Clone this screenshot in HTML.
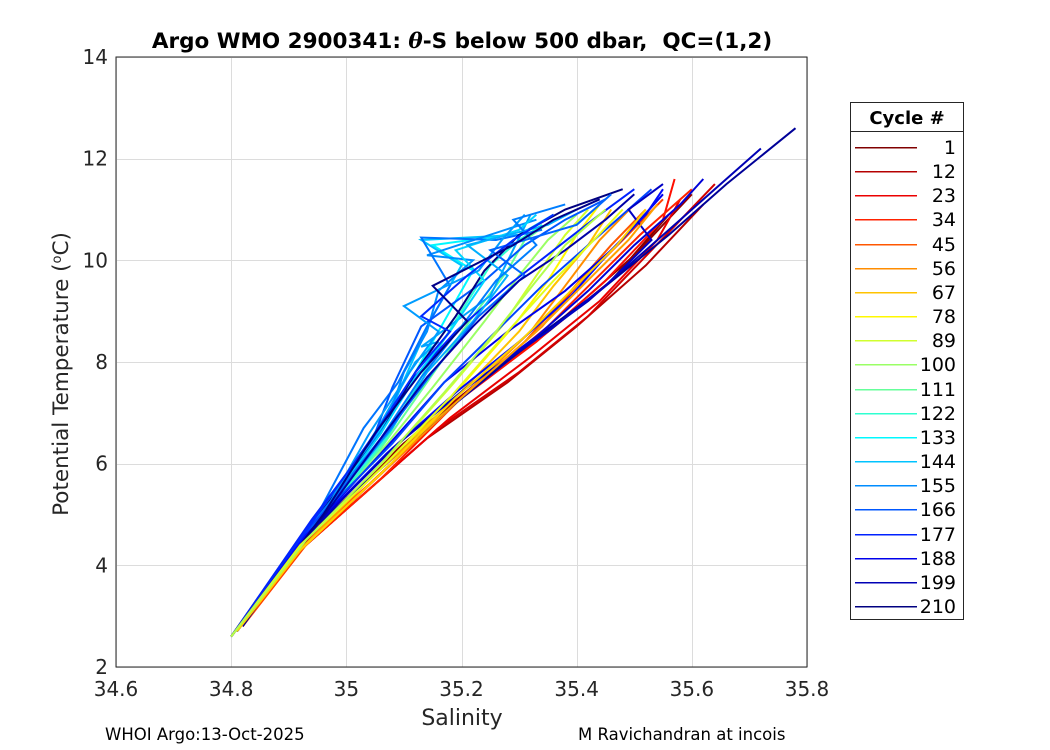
<!DOCTYPE html>
<html><head><meta charset="utf-8"><style>
body{margin:0;background:#fff;}
svg{display:block;font-family:"DejaVu Sans","Liberation Sans",sans-serif;}
</style></head><body>
<svg id="chart" width="1050" height="750" viewBox="0 0 1050 750">
<rect x="0" y="0" width="1050" height="750" fill="#fff"/>
<rect x="116" y="57" width="691" height="610" fill="#fff"/>
<g id="grid"></g>
<g id="lines"></g>
<rect x="116" y="57" width="691" height="610" fill="none" stroke="#262626" stroke-width="1"/>
<g id="ticks"></g>
<text x="462" y="48" text-anchor="middle" font-size="21.5" font-weight="bold" fill="#000" xml:space="preserve">Argo WMO 2900341: <tspan font-style="italic" font-family="DejaVu Serif, serif">θ</tspan>-S below 500 dbar,  QC=(1,2)</text>
<text x="462" y="725" text-anchor="middle" font-size="22" fill="#262626">Salinity</text>
<text transform="translate(68,374) rotate(-90)" text-anchor="middle" font-size="21.5" fill="#262626">Potential Temperature (<tspan baseline-shift="super" font-size="13">o</tspan>C)</text>
<text x="105" y="740" font-size="16.5" fill="#000">WHOI Argo:13-Oct-2025</text>
<text x="578" y="740" font-size="16.5" fill="#000">M Ravichandran at incois</text>
<g id="legend">
<rect x="850.5" y="102.5" width="113" height="517" fill="#fff" stroke="#262626" stroke-width="1"/>
<line x1="850" y1="131.5" x2="964" y2="131.5" stroke="#262626"/>
<text x="907" y="124" text-anchor="middle" font-size="18" font-weight="bold">Cycle #</text>
</g>
</svg>
<script>
const xTicks=[34.6,34.8,35,35.2,35.4,35.6,35.8];
const xTickLabels=["34.6","34.8","35","35.2","35.4","35.6","35.8"];
const yTicks=[2,4,6,8,10,12,14];
const yTickLabels=["2","4","6","8","10","12","14"];
const legendCycles=[1,12,23,34,45,56,67,78,89,100,111,122,133,144,155,166,177,188,199,210];
const cycles=[1,5,12,18,23,30,34,40,45,56,67,78,89,100,111,122,133,144,150,155,160,166,177,188,199,205,210,
  140,148,152,158,163,170,175,182,192,196,202,208,60,70,85,95];
const salts=[
[34.80,34.88,34.98,35.10,35.22,35.34,35.46,35.56],
[34.81,34.90,35.00,35.12,35.25,35.38,35.50,35.60],
[34.80,34.89,35.01,35.14,35.28,35.40,35.52,35.62],
[34.82,34.91,35.03,35.16,35.30,35.42,35.53,35.64],
[34.80,34.90,35.04,35.18,35.32,35.44,35.54,35.58],
[34.81,34.92,35.05,35.19,35.33,35.45,35.55,35.57],
[34.80,34.91,35.06,35.20,35.35,35.43,35.51,35.60],
[34.82,34.93,35.07,35.21,35.34,35.40,35.48,35.55],
[34.80,34.90,35.04,35.18,35.31,35.39,35.46,35.52],
[34.81,34.92,35.06,35.20,35.32,35.38,35.44,35.50],
[34.80,34.91,35.05,35.19,35.30,35.36,35.42,35.46],
[34.80,34.92,35.06,35.19,35.29,35.35,35.40,35.44],
[34.81,34.93,35.07,35.18,35.27,35.33,35.38,35.42],
[34.80,34.92,35.05,35.15,35.24,35.30,35.35,35.40],
[34.80,34.93,35.06,35.14,35.22,35.28,35.31,35.36],
[34.81,34.94,35.07,35.14,35.20,35.25,35.30,35.34],
[34.80,34.93,35.05,35.12,35.17,35.22,35.15,35.28],
[34.80,34.94,35.06,35.11,35.15,35.20,35.13,35.30,35.36],
[34.81,34.96,35.06,35.12,35.16,35.13,35.25,35.32],
[34.81,34.95,35.07,35.10,35.14,35.16,35.22,35.14,35.33],
[34.80,34.95,35.03,35.09,35.14,35.18,35.13,35.26,35.34],
[34.80,34.95,35.05,35.08,35.13,35.24,35.31,35.38,35.45],
[34.80,34.94,35.04,35.11,35.19,35.28,35.36,35.44,35.50],
[34.81,34.93,35.06,35.17,35.28,35.38,35.47,35.55],
[34.80,34.92,35.05,35.18,35.30,35.42,35.52,35.63,35.72],
[34.82,34.93,35.07,35.20,35.32,35.44,35.56,35.66,35.78],
[34.80,34.94,35.06,35.12,35.19,35.24,35.30,35.38,35.48],
[34.80,34.95,35.06,35.12,35.18,35.24,35.19,35.30,35.33],
[34.81,34.95,35.08,35.14,35.22,35.28,35.21,35.35,35.40],
[34.80,34.96,35.04,35.11,35.16,35.10,35.23,35.27,35.31],
[34.81,34.94,35.06,35.13,35.20,35.26,35.33,35.29,35.38],
[34.80,34.95,35.07,35.15,35.23,35.31,35.25,35.40,35.46],
[34.80,34.94,35.08,35.17,35.26,35.34,35.41,35.48,35.53],
[34.81,34.95,35.05,35.12,35.18,35.13,35.21,35.29,35.36],
[34.80,34.93,35.07,35.19,35.30,35.39,35.46,35.52,35.55],
[34.80,34.94,35.08,35.21,35.33,35.42,35.50,35.58,35.62],
[34.81,34.94,35.09,35.22,35.35,35.45,35.53,35.49,35.55],
[34.80,34.95,35.06,35.14,35.22,35.30,35.38,35.45,35.50],
[34.80,34.96,35.05,35.13,35.21,35.15,35.29,35.36,35.44],
[34.80,34.91,35.05,35.20,35.33,35.41,35.49,35.54],
[34.81,34.92,35.06,35.19,35.31,35.39,35.47,35.52],
[34.80,34.92,35.06,35.18,35.28,35.36,35.43,35.48],
[34.80,34.93,35.06,35.17,35.26,35.33,35.38,35.45]
];
const temps=[
[2.6,3.9,5.1,6.4,7.5,8.5,9.6,10.9],
[2.7,4.1,5.3,6.6,7.8,8.9,10.1,11.3],
[2.6,4.0,5.2,6.5,7.6,8.7,9.9,11.1],
[2.8,4.2,5.4,6.7,7.8,8.9,10.2,11.5],
[2.6,4.1,5.5,6.9,8.1,9.2,10.4,11.2],
[2.7,4.3,5.7,7.2,8.4,9.6,10.8,11.6],
[2.6,4.2,5.7,7.3,8.7,9.6,10.5,11.4],
[2.8,4.4,5.9,7.4,8.7,9.5,10.4,11.2],
[2.6,4.2,5.6,7.1,8.4,9.4,10.3,11.0],
[2.7,4.3,5.8,7.3,8.6,9.5,10.4,11.1],
[2.6,4.3,5.8,7.3,8.6,9.5,10.3,11.0],
[2.6,4.4,5.9,7.4,8.7,9.6,10.5,11.1],
[2.7,4.5,6.1,7.5,8.7,9.7,10.5,11.0],
[2.6,4.5,6.1,7.5,8.8,9.7,10.4,10.9],
[2.6,4.6,6.3,7.6,8.9,9.8,10.4,10.8],
[2.7,4.7,6.5,7.9,9.0,9.9,10.4,10.7],
[2.6,4.7,6.5,7.8,8.8,9.8,10.3,10.5],
[2.6,4.8,6.6,7.9,8.9,9.9,10.4,10.5,10.9],
[2.7,5.0,6.8,8.0,8.4,8.3,9.3,10.9],
[2.7,4.9,6.8,7.8,8.6,9.4,10.0,10.1,10.8],
[2.6,5.0,6.7,7.6,8.7,9.5,10.45,10.4,10.6],
[2.6,4.9,6.6,7.5,8.7,9.6,10.3,10.8,11.2],
[2.6,4.9,6.4,7.6,8.6,9.5,10.2,10.9,11.4],
[2.7,4.6,6.2,7.6,8.6,9.4,10.3,11.3],
[2.6,4.4,5.8,7.1,8.2,9.2,10.2,11.3,12.2],
[2.8,4.6,6.0,7.3,8.4,9.4,10.5,11.5,12.6],
[2.6,4.8,6.6,7.8,8.9,9.8,10.5,11.0,11.4],
[2.6,4.9,6.6,7.7,8.6,9.6,10.2,10.6,10.9],
[2.7,4.9,6.7,7.8,8.8,9.7,10.3,10.7,11.0],
[2.6,5.0,6.6,7.8,8.6,9.1,9.8,10.4,10.9],
[2.7,4.8,6.5,7.7,8.7,9.6,10.3,10.8,11.1],
[2.6,4.9,6.6,7.8,8.9,9.7,10.2,10.7,11.3],
[2.6,4.8,6.4,7.6,8.6,9.5,10.2,10.9,11.4],
[2.7,5.0,6.6,7.8,8.6,8.9,9.7,10.4,10.9],
[2.6,4.6,6.2,7.4,8.4,9.3,10.2,10.9,11.4],
[2.6,4.7,6.3,7.5,8.5,9.4,10.3,11.1,11.6],
[2.7,4.7,6.4,7.6,8.6,9.5,10.4,11.0,11.5],
[2.6,4.8,6.5,7.7,8.7,9.6,10.2,10.8,11.3],
[2.6,5.0,6.6,7.8,8.8,9.5,10.3,10.8,11.2],
[2.6,4.2,5.8,7.3,8.6,9.5,10.4,11.1],
[2.7,4.3,5.8,7.3,8.5,9.4,10.3,11.0],
[2.6,4.4,5.9,7.3,8.6,9.6,10.4,11.0],
[2.6,4.5,6.0,7.4,8.6,9.6,10.3,11.0]
];
const NS="http://www.w3.org/2000/svg";
const X0=116,X1=807,Y0=667,Y1=57;
function sx(s){return X0+(s-34.6)/(35.8-34.6)*(X1-X0);}
function ty(t){return Y0-(t-2)/(14-2)*(Y0-Y1);}
function jet(c){
  const v=1-(c-1)/209;
  const f=x=>Math.max(0,Math.min(1,x));
  const r=f(1.5-Math.abs(4*v-3)),g=f(1.5-Math.abs(4*v-2)),b=f(1.5-Math.abs(4*v-1));
  return `rgb(${Math.round(r*255)},${Math.round(g*255)},${Math.round(b*255)})`;
}
const grid=document.getElementById('grid'),ticks=document.getElementById('ticks');
xTicks.forEach((v,i)=>{
  const x=Math.round(sx(v))+0.5;
  const l=document.createElementNS(NS,'line');
  l.setAttribute('x1',x);l.setAttribute('x2',x);l.setAttribute('y1',Y1);l.setAttribute('y2',Y0);
  l.setAttribute('stroke','#dcdcdc');
  
  
  grid.appendChild(l);
  const t=document.createElementNS(NS,'text');
  t.setAttribute('x',sx(v));t.setAttribute('y',Y0+29);t.setAttribute('text-anchor','middle');
  t.setAttribute('font-size','20');t.setAttribute('fill','#262626');
  t.textContent=xTickLabels[i];
  
  
  ticks.appendChild(t);
});
yTicks.forEach((v,i)=>{
  const y=Math.round(ty(v))+0.5;
  const l=document.createElementNS(NS,'line');
  l.setAttribute('x1',X0);l.setAttribute('x2',X1);l.setAttribute('y1',y);l.setAttribute('y2',y);
  l.setAttribute('stroke','#dcdcdc');
  
  
  grid.appendChild(l);
  const t=document.createElementNS(NS,'text');
  t.setAttribute('x',X0-8);t.setAttribute('y',ty(v)+7);t.setAttribute('text-anchor','end');
  t.setAttribute('font-size','20');t.setAttribute('fill','#262626');
  t.textContent=yTickLabels[i];
  
  
  ticks.appendChild(t);
});
const lines=document.getElementById('lines');
cycles.forEach((c,i)=>{
  const p=document.createElementNS(NS,'polyline');
  p.setAttribute('points',salts[i].map((s,j)=>sx(s).toFixed(1)+','+ty(temps[i][j]).toFixed(1)).join(' '));
  p.setAttribute('fill','none');p.setAttribute('stroke',jet(c));p.setAttribute('stroke-width','2');
  
  
  lines.appendChild(p);
});
const leg=document.getElementById('legend');
legendCycles.forEach((c,i)=>{
  const y=Math.round(147+i*24.16);
  const r=document.createElementNS(NS,'rect');
  r.setAttribute('x',855);r.setAttribute('y',y);r.setAttribute('width',62);r.setAttribute('height',1.5);
  r.setAttribute('fill',jet(c));
  
  
  leg.appendChild(r);
  const t=document.createElementNS(NS,'text');
  t.setAttribute('x',956);t.setAttribute('y',y+7);t.setAttribute('text-anchor','end');
  t.setAttribute('font-size','19');t.setAttribute('fill','#000');
  t.textContent=c;
  
  
  leg.appendChild(t);
});
</script>
</body></html>
